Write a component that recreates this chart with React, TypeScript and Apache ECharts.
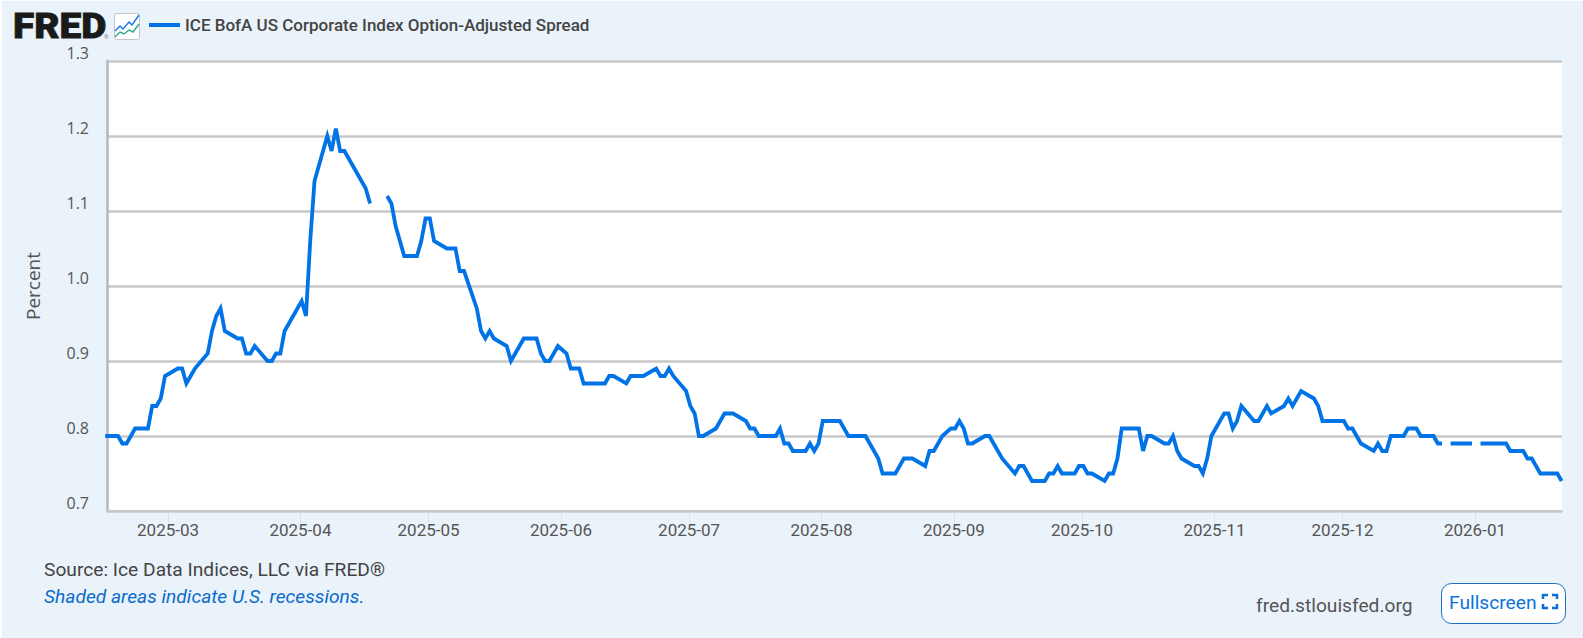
import React, { useEffect, useRef } from "react";
import * as echarts from "echarts";

const seriesName = "ICE BofA US Corporate Index Option-Adjusted Spread";
const feb2025 = [0.8, 0.8, 0.79, 0.79, 0.8, 0.81, 0.81, 0.84, 0.84, 0.85, 0.88];
const mar2025 = [0.89, 0.89, 0.87, 0.88, 0.89, 0.91, 0.94, 0.96, 0.97, 0.94, 0.93, 0.93, 0.91, 0.91, 0.92, 0.9, 0.9, 0.91, 0.91, 0.94, 0.97];
const apr2025 = [0.98, 0.96, 1.06, 1.14, 1.2, 1.18, 1.21, 1.18, 1.18, 1.15, 1.14, 1.13, 1.11, null, 1.12, 1.11, 1.08, 1.06, 1.04, 1.04, 1.06, 1.09];
const may2025 = [1.09, 1.06, 1.05, 1.05, 1.05, 1.02, 1.02, 0.97, 0.94, 0.93, 0.94, 0.93, 0.92, 0.9, 0.91, 0.92, 0.93, 0.93, 0.91, 0.9, 0.9, 0.91, 0.92];
const jun2025 = [0.91, 0.89, 0.89, 0.89, 0.87, 0.87, 0.87, 0.87, 0.88, 0.88, 0.87, 0.88, 0.88, 0.88, 0.88, 0.89, 0.88, 0.88, 0.89, 0.88, 0.86];
const jul2025 = [0.84, 0.83, 0.8, 0.8, 0.81, 0.82, 0.83, 0.83, 0.83, 0.82, 0.81, 0.81, 0.8, 0.8, 0.8, 0.81, 0.79, 0.79, 0.78, 0.78, 0.79, 0.78, 0.79];
const aug2025 = [0.82, 0.82, 0.82, 0.81, 0.8, 0.8, 0.8, 0.79, 0.78, 0.77, 0.75, 0.75, 0.76, 0.77, 0.77, 0.77, 0.76, 0.78, 0.78, 0.79, 0.8, 0.81];
const sep2025 = [0.81, 0.82, 0.81, 0.79, 0.79, 0.8, 0.8, 0.79, 0.78, 0.77, 0.75, 0.76, 0.76, 0.75, 0.74, 0.74, 0.75, 0.75, 0.76, 0.75, 0.75, 0.76];
const oct2025 = [0.76, 0.75, 0.75, 0.74, 0.75, 0.75, 0.77, 0.81, 0.81, 0.81, 0.78, 0.8, 0.8, 0.79, 0.79, 0.8, 0.78, 0.77, 0.76, 0.76, 0.75, 0.77, 0.8];
const nov2025 = [0.83, 0.83, 0.81, 0.82, 0.84, 0.82, 0.82, 0.83, 0.84, 0.83, 0.84, 0.85, 0.84, 0.85, 0.86, 0.85, 0.84, 0.82, 0.82, 0.82, 0.82];
const dec2025 = [0.82, 0.81, 0.81, 0.8, 0.79, 0.78, 0.79, 0.78, 0.78, 0.8, 0.8, 0.81, 0.81, 0.81, 0.8, 0.8, 0.79, 0.79, null, 0.79, 0.79, 0.79, 0.79];
const jan2026 = [null, 0.79, 0.79, 0.79, 0.79, 0.79, 0.78, 0.78, 0.77, 0.77, 0.76, 0.75, 0.75, 0.75, 0.74];

const months: [number, number, number, (number | null)[]][] = [
  [2025, 1, 14, feb2025], [2025, 2, 1, mar2025], [2025, 3, 1, apr2025], [2025, 4, 1, may2025],
  [2025, 5, 1, jun2025], [2025, 6, 1, jul2025], [2025, 7, 1, aug2025], [2025, 8, 1, sep2025],
  [2025, 9, 1, oct2025], [2025, 10, 1, nov2025], [2025, 11, 1, dec2025], [2026, 0, 1, jan2026],
];
const tickMonths = ["2025-03", "2025-04", "2025-05", "2025-06", "2025-07", "2025-08", "2025-09", "2025-10", "2025-11", "2025-12", "2026-01"];
const H = 3600000;

// Observations fall on weekdays and on each month's last day.
function buildData() {
  const out: [number, number | null][] = [];
  for (const [y, m, start, vals] of months) {
    let i = 0;
    let d = start;
    while (i < vals.length) {
      const t = new Date(Date.UTC(y, m, d));
      if (t.getUTCMonth() !== m) break;
      const wd = t.getUTCDay();
      const last = new Date(Date.UTC(y, m, d + 1)).getUTCMonth() !== m;
      if ((wd !== 0 && wd !== 6) || last) {
        out.push([t.getTime() + 7 * H, vals[i]]);
        i++;
      }
      d++;
    }
  }
  return out;
}
const tickTimes = tickMonths.map((s) => Date.UTC(+s.slice(0, 4), +s.slice(5) - 1, 1));
const xMin = Date.UTC(2025, 1, 14) + 17 * H;
const xMax = Date.UTC(2026, 0, 21) + 9 * H;

const BG = "#eaf2fa";
const TXT = "#555555";
const BLUE = "#0073e6";
const ROBOTO = "Roboto";

export default function App() {
  const ref = useRef<HTMLDivElement>(null);
  useEffect(() => {
    document.body.style.margin = "0";
    document.body.style.background = "#fff";
    const chart = echarts.init(ref.current!, null, { renderer: "svg" });
    chart.setOption({
      animation: false,
      grid: { left: 107, right: 21, top: 61, bottom: 127, show: true, backgroundColor: "#fff", borderWidth: 0 },
      legend: {
        left: 144, top: 11.5, icon: "rect", itemWidth: 31, itemHeight: 4,
        selectedMode: false,
        textStyle: { fontFamily: ROBOTO, fontSize: 17, fontWeight: 500, color: "#444" },
        data: [seriesName],
      },
      xAxis: {
        type: "value", min: xMin, max: xMax,
        splitLine: { show: false },
        axisLine: { lineStyle: { color: "#c8c8c8", width: 2 } },
        axisTick: { show: true, customValues: tickTimes, length: 12, lineStyle: { color: "#d6e0ef", width: 1 } },
        axisLabel: {
          customValues: tickTimes, margin: 10, fontFamily: ROBOTO, fontSize: 17, color: TXT, hideOverlap: false,
          formatter: (v: number) => tickMonths[tickTimes.indexOf(v)] ?? "",
        },
      },
      yAxis: {
        type: "value", min: 0.7, max: 1.3, interval: 0.1,
        name: "Percent", nameLocation: "middle", nameGap: 65,
        nameTextStyle: { fontFamily: "Open Sans", fontSize: 19, color: TXT },
        axisLine: { show: true, lineStyle: { color: "#b4b8bb", width: 2.5 } },
        axisTick: { show: false },
        splitLine: { lineStyle: { color: "#c8c8c8", width: 2.5 } },
        axisLabel: {
          margin: 18, fontFamily: "Open Sans", fontSize: 16, color: TXT,
          verticalAlign: "bottom", lineHeight: 16,
          formatter: (v: number) => v.toFixed(1),
        },
      },
      series: [{
        name: seriesName, type: "line", data: buildData(), showSymbol: false, connectNulls: false,
        lineStyle: { color: BLUE, width: 3.8, join: "miter" }, itemStyle: { color: BLUE }, clip: true,
      }],
      graphic: [
        { type: "rect", z: -10, silent: true, shape: { x: 2, y: 1, width: 1581, height: 637 }, style: { fill: BG } },
        { type: "text", z: 10, x: 13, y: 8, scaleX: 1.08, style: { text: "FRED", font: "900 36px Roboto", fill: "#1a1a1a", stroke: "#1a1a1a", lineWidth: 0.8 } },
        { type: "text", z: 10, x: 104, y: 33, style: { text: "®", font: "6px Roboto", fill: "#777" } },
        { type: "rect", z: 10, shape: { x: 114.5, y: 13.5, width: 25, height: 26, r: 2 }, style: { fill: "#fff", stroke: "#c4c4c4", lineWidth: 1 } },
        { type: "polyline", z: 11, shape: { points: [[115, 31], [120, 26], [123, 29], [129, 22], [132, 25], [139, 15]] }, style: { stroke: "#1273e6", fill: "none", lineWidth: 1.4 } },
        { type: "polyline", z: 11, shape: { points: [[115, 37], [120, 32], [124, 34], [129, 30], [133, 32], [139, 24]] }, style: { stroke: "#2ba98f", fill: "none", lineWidth: 1.4 } },
        { type: "text", z: 10, x: 44, y: 560, style: { text: "Source: Ice Data Indices, LLC via FRED®", font: "19.2px Roboto", fill: "#444" } },
        { type: "text", z: 10, x: 44, y: 587, style: { text: "Shaded areas indicate U.S. recessions.", font: "italic 19.2px Roboto", fill: "#0b6bcb" } },
        { type: "text", z: 10, x: 1256, y: 596, style: { text: "fred.stlouisfed.org", font: "19.2px Roboto", fill: "#555" } },
        { type: "rect", z: 10, shape: { x: 1441.5, y: 583.5, width: 124, height: 40, r: 10 }, style: { fill: "#fff", stroke: "#1a6fc4", lineWidth: 1 } },
        { type: "text", z: 11, x: 1449, y: 593, style: { text: "Fullscreen", font: "19.2px Roboto", fill: "#0a74da" } },
        { type: "polyline", z: 11, shape: { points: [[1543, 599], [1543, 595], [1548, 595]] }, style: { stroke: "#0a6fd8", fill: "none", lineWidth: 2.5 } },
        { type: "polyline", z: 11, shape: { points: [[1552, 595], [1557, 595], [1557, 599]] }, style: { stroke: "#0a6fd8", fill: "none", lineWidth: 2.5 } },
        { type: "polyline", z: 11, shape: { points: [[1543, 604], [1543, 608], [1548, 608]] }, style: { stroke: "#0a6fd8", fill: "none", lineWidth: 2.5 } },
        { type: "polyline", z: 11, shape: { points: [[1552, 608], [1557, 608], [1557, 604]] }, style: { stroke: "#0a6fd8", fill: "none", lineWidth: 2.5 } },
      ],
    });
    return () => chart.dispose();
  }, []);
  return <div ref={ref} style={{ width: 1583, height: 638 }} />;
}
